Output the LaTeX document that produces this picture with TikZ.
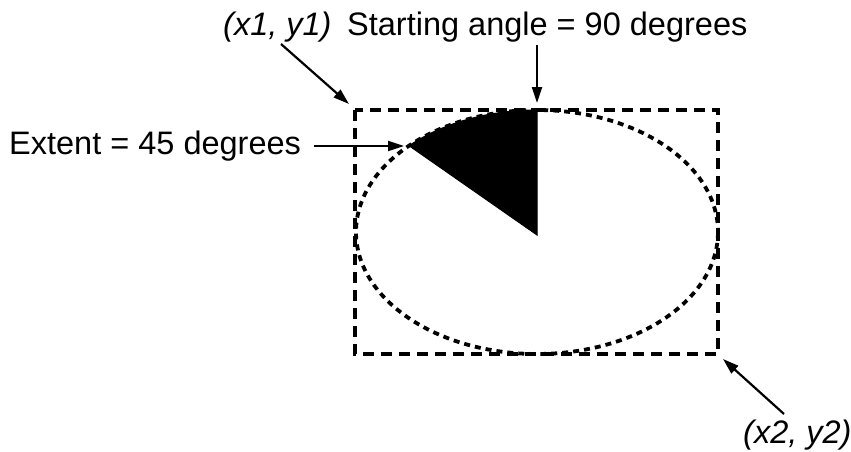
\documentclass[tikz,border=0pt]{standalone}
\usepackage{fontspec}
\setmainfont{Liberation Sans}
\usetikzlibrary{arrows.meta}
\tikzset{
  lbl/.style={inner sep=0pt, font=\fontsize{32.5}{38}\selectfont},
  ptr/.style={line width=2.2pt, -{Stealth[length=16pt,width=10pt,inset=0pt]}},
  box/.style={line width=3.8pt, dash pattern=on 11pt off 7pt},
  oval/.style={line width=3.8pt, dash pattern=on 6pt off 5pt},
}
\begin{document}
\begin{tikzpicture}[x=1pt,y=-1pt]
\useasboundingbox (0,0) rectangle (851,452);
% bounding rectangle and ellipse
\draw[box] (355,110) rectangle (718,354);
\draw[oval] (537,232) ellipse [x radius=181, y radius=122];
% filled wedge from 90 to 135 degrees
\filldraw[line width=1pt, line join=miter] (537,235) -- (537,110) arc [start angle=90, end angle=135, x radius=181, y radius=-122] -- cycle;
% corners and targets
\coordinate (tl) at (349,104);
\coordinate (br) at (723,359);
\coordinate (top) at (537,103);
\coordinate (wl) at (404,146);
\coordinate (s1) at (281,44);
\coordinate (s2) at (537,45);
\coordinate (s4) at (784,414);
% labels
\node[lbl, anchor=base west] (p1) at (223,36) {\itshape(x1, y1)};
\node[lbl, anchor=base west] (sa) at (347,36) {Starting angle = 90 degrees};
\node[lbl, anchor=west] (ext) at (9,146) {Extent = 45 degrees};
\node[lbl, anchor=base west] (p2) at (743,443) {\itshape(x2, y2)};
% connectors
\draw[ptr] (s1) -- (tl);
\draw[ptr] (s2) -- (top);
\draw[ptr] (ext.east) ++(13,0) -- (wl);
\draw[ptr] (s4) -- (br);
\end{tikzpicture}
\end{document}
